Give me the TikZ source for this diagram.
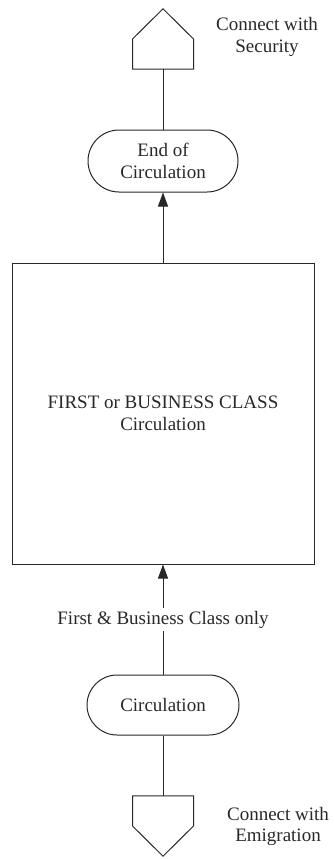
\documentclass[tikz,border=0pt]{standalone}
\usepackage{fontspec}
\setmainfont{Liberation Serif}
\usetikzlibrary{shapes.misc,arrows.meta}
\definecolor{ink}{RGB}{40,40,40}
\begin{document}
\begin{tikzpicture}[x=1pt,y=-1pt,
  every node/.style={font=\fontsize{19}{21.5}\selectfont, text=ink},
  conn/.style={draw=ink, line width=1pt},
  arr/.style={conn, -{Triangle[length=14pt,width=10pt]}},
  pill/.style={draw=ink, line width=1pt, rounded rectangle, align=center, inner sep=0pt},
  bigbox/.style={draw=ink, line width=1pt, rectangle, align=center, inner sep=0pt, minimum width=302pt, minimum height=301pt},
  offpage/.style={inner sep=0pt, minimum width=60.6pt, minimum height=60pt},
  lbl/.style={align=center}]
\useasboundingbox (0,0) rectangle (334,859);

% top off-page connector (Security)
\node[offpage] (sec) at (163,39) {};
\draw[conn] (sec.south west) -- (sec.west) -- (sec.north) -- (sec.east) -- (sec.south east) -- cycle;
\node[lbl] (seclbl) at (267,37) {Connect with\\Security};

% End of Circulation
\node[pill, minimum width=150pt, minimum height=62pt] (endc) at (163,161) {End of\\Circulation};

% Big box
\node[bigbox] (box) at (163,413.5) {FIRST or BUSINESS CLASS\\Circulation};

% Circulation
\node[pill, minimum width=152pt, minimum height=60pt] (circ) at (163,705) {Circulation};

% bottom off-page connector (Emigration)
\node[offpage] (emi) at (163,826) {};
\draw[conn] (emi.north west) -- (emi.west) -- (emi.south) -- (emi.east) -- (emi.north east) -- cycle;
\node[lbl] (emilbl) at (278,826.5) {Connect with\\Emigration};

% connectors
\draw[conn] (sec.south) -- (endc.north);
\draw[arr] (box.north) -- (endc.south);
\draw[arr] (circ.north) -- node[fill=white, inner sep=3pt] (fbc) {First \& Business Class only} (box.south);
\draw[conn] (circ.south) -- (emi.north);
\end{tikzpicture}
\end{document}
